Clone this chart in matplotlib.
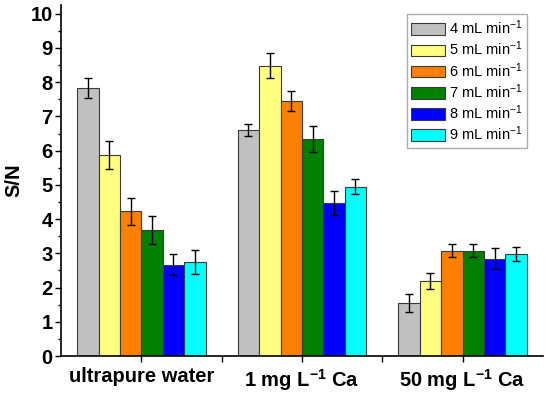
import matplotlib.pyplot as plt
import numpy as np
from matplotlib.ticker import MultipleLocator, FixedLocator

plt.rcParams['font.family'] = ['Liberation Sans', 'DejaVu Sans']
plt.rcParams['mathtext.default'] = 'regular'

# Data
groups = ["ultrapure water", "1 mg L$^{-1}$ Ca", "50 mg L$^{-1}$ Ca"]
flows = ["4 mL min$^{-1}$", "5 mL min$^{-1}$", "6 mL min$^{-1}$",
         "7 mL min$^{-1}$", "8 mL min$^{-1}$", "9 mL min$^{-1}$"]
# values per flow rate, one entry per group
sn = [
    [7.83, 6.61, 1.55],
    [5.87, 8.48, 2.20],
    [4.23, 7.46, 3.08],
    [3.68, 6.35, 3.08],
    [2.67, 4.47, 2.84],
    [2.75, 4.95, 2.99],
]
err = [
    [0.30, 0.17, 0.27],
    [0.42, 0.36, 0.24],
    [0.40, 0.29, 0.19],
    [0.42, 0.38, 0.19],
    [0.30, 0.36, 0.31],
    [0.36, 0.22, 0.20],
]
colors = ["#C0C0C0", "#FFFF80", "#FF8000", "#008000", "#0000FF", "#00FFFF"]

fig = plt.figure(figsize=(5.5, 3.93), dpi=100)
ax = fig.add_axes([0.111, 0.094, 0.876, 0.893])

x = np.arange(1, len(groups) + 1)
w = 0.8 / len(flows)
for i in range(len(flows)):
    pos = x - 0.4 + w * (i + 0.5)
    ax.bar(pos, sn[i], width=w, color=colors[i], edgecolor="#3a3a3a",
           linewidth=0.8, label=flows[i], zorder=2)
    ax.errorbar(pos, sn[i], yerr=err[i], fmt="none", ecolor="black",
                elinewidth=1, capsize=3, capthick=1, zorder=3)

ax.set_xlim(0.5, 3.5)
ax.set_ylim(0, 10.25)
ax.set_xticks(x)
ax.set_xticklabels(groups, fontsize=14.5, fontweight="bold")
ax.xaxis.set_minor_locator(FixedLocator([1.5, 2.5]))
ax.yaxis.set_major_locator(MultipleLocator(1))
ax.yaxis.set_minor_locator(MultipleLocator(0.5))
for lab in ax.get_yticklabels():
    lab.set_fontsize(14.5)
    lab.set_fontweight("bold")
ax.tick_params(axis="both", which="major", length=4, width=1, pad=2)
ax.tick_params(axis="x", which="major", pad=4)
ax.tick_params(axis="both", which="minor", length=4, width=1)
ax.tick_params(axis="y", which="minor", length=2.5)
ax.spines["top"].set_visible(False)
ax.spines["right"].set_visible(False)
ax.spines["left"].set_linewidth(1.2)
ax.spines["bottom"].set_linewidth(1.2)

ax.set_ylabel("S/N", fontsize=14.5, fontweight="bold", labelpad=5)

leg = ax.legend(loc="upper right", bbox_to_anchor=(0.967, 0.974), fontsize=10.5,
                frameon=True, fancybox=False, edgecolor="#999999",
                handlelength=2.3, handleheight=0.85, labelspacing=0.18,
                handletextpad=0.3, borderpad=0.3, borderaxespad=0)
leg.get_frame().set_linewidth(1)

plt.savefig("out.png", dpi=100)
